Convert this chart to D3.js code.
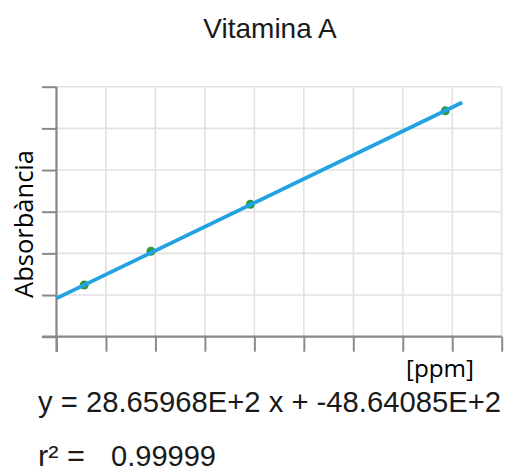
<!DOCTYPE html>
<html>
<head>
<meta charset="utf-8">
<script src="https://cdn.jsdelivr.net/npm/d3@7/dist/d3.min.js"></script>
<style>
  html, body { margin: 0; padding: 0; background: #fff; }
  svg { display: block; }
</style>
</head>
<body>
<div id="chart"></div>
<script>
// calibration points (ppm vs absorbance)
var concentrations = [0.56, 1.91, 3.92, 7.86];
var absorbances = [1.24, 2.05, 3.18, 5.42];

// fitted line end points
var fitX = [0, 8.2];
var fitY = [0.92, 5.62];

var xTicks = [0, 1, 2, 3, 4, 5, 6, 7, 8, 9];
var yTicks = [0, 1, 2, 3, 4, 5, 6];

var title = 'Vitamina A',
    yTitle = 'Absorbància',
    xTitle = '[ppm]',
    equation = 'y = 28.65968E+2 x + -48.64085E+2',
    r2Label = 'r² =',
    r2Value = '0.99999';

(function(){

    var width = 506,
        height = 473,
        plotLeft = 56.5,
        plotRight = 501.7,
        plotTop = 86.7,
        plotBottom = 336.7,
        axisColor = '#8a8a8a',
        gridColor = '#e2e2e2',
        svg, x, y;

    svg = d3.select('#chart')
        .append('svg')
        .attr('width', width)
        .attr('height', height);

    x = d3.scaleLinear().domain([0, 9]).range([plotLeft, plotRight]);
    y = d3.scaleLinear().domain([0, 6]).range([plotBottom, plotTop]);

    // grid
    svg.append('g')
        .selectAll('line')
        .data(yTicks)
        .enter()
        .append('line')
        .attr('x1', plotLeft)
        .attr('x2', plotRight)
        .attr('y1', d => y(d))
        .attr('y2', d => y(d))
        .style('stroke', gridColor)
        .style('stroke-width', 1.6);

    svg.append('g')
        .selectAll('line')
        .data(xTicks)
        .enter()
        .append('line')
        .attr('x1', d => x(d))
        .attr('x2', d => x(d))
        .attr('y1', plotTop)
        .attr('y2', plotBottom)
        .style('stroke', gridColor)
        .style('stroke-width', 1.6);

    // axes
    var yAxis = svg.append('g')
        .attr('transform', 'translate(' + plotLeft + ',0)')
        .call(d3.axisLeft(y).tickValues(yTicks).tickSize(14.5).tickFormat(''));

    var xAxis = svg.append('g')
        .attr('transform', 'translate(0,' + plotBottom + ')')
        .call(d3.axisBottom(x).tickValues(xTicks).tickSize(15).tickFormat(''));

    [yAxis, xAxis].forEach(function(g){
        g.select('.domain').remove();
        g.selectAll('line')
            .style('stroke', axisColor)
            .style('stroke-width', 2);
    });

    svg.append('line')
        .attr('x1', plotLeft).attr('x2', plotLeft)
        .attr('y1', plotTop).attr('y2', plotBottom + 15)
        .style('stroke', axisColor)
        .style('stroke-width', 2.2);

    svg.append('line')
        .attr('x1', plotLeft - 14.5).attr('x2', plotRight)
        .attr('y1', plotBottom).attr('y2', plotBottom)
        .style('stroke', axisColor)
        .style('stroke-width', 2.2);

    // points
    svg.append('g')
        .selectAll('circle')
        .data(d3.zip(concentrations, absorbances))
        .enter()
        .append('circle')
        .attr('cx', d => x(d[0]))
        .attr('cy', d => y(d[1]))
        .attr('r', 4.5)
        .attr('fill', '#2f9a3c');

    // regression line
    svg.append('path')
        .datum(d3.zip(fitX, fitY))
        .attr('d', d3.line().x(d => x(d[0])).y(d => y(d[1])))
        .attr('fill', 'none')
        .style('stroke', '#22a2e2')
        .style('stroke-width', 3.8);

    // texts
    svg.append('text')
        .text(title)
        .attr('x', 270)
        .attr('y', 38)
        .attr('text-anchor', 'middle')
        .attr('font-family', 'Liberation Sans, Arial, sans-serif')
        .attr('font-size', '28px')
        .attr('fill', '#1a1a1a');

    svg.append('text')
        .text(yTitle)
        .attr('transform', 'translate(33,224) rotate(-90)')
        .attr('text-anchor', 'middle')
        .attr('font-family', 'Open Sans, sans-serif')
        .attr('font-size', '26px')
        .attr('textLength', 148)
        .attr('lengthAdjust', 'spacingAndGlyphs')
        .attr('fill', '#000');

    svg.append('text')
        .text(xTitle)
        .attr('x', 406)
        .attr('y', 377)
        .attr('font-family', 'Open Sans, sans-serif')
        .attr('font-size', '23px')
        .attr('textLength', 68)
        .attr('lengthAdjust', 'spacingAndGlyphs')
        .attr('fill', '#000');

    svg.append('text')
        .text(equation)
        .attr('x', 38)
        .attr('y', 412)
        .attr('font-family', 'Liberation Sans, Arial, sans-serif')
        .attr('font-size', '29px')
        .attr('textLength', 463)
        .attr('lengthAdjust', 'spacingAndGlyphs')
        .attr('fill', '#1a1a1a');

    svg.append('text')
        .text(r2Label)
        .attr('x', 38)
        .attr('y', 466)
        .attr('font-family', 'Liberation Sans, Arial, sans-serif')
        .attr('font-size', '29px')
        .attr('textLength', 47)
        .attr('lengthAdjust', 'spacingAndGlyphs')
        .attr('fill', '#1a1a1a');

    svg.append('text')
        .text(r2Value)
        .attr('x', 111)
        .attr('y', 466)
        .attr('font-family', 'Liberation Sans, Arial, sans-serif')
        .attr('font-size', '29px')
        .attr('textLength', 105)
        .attr('lengthAdjust', 'spacingAndGlyphs')
        .attr('fill', '#1a1a1a');
})();
</script>
</body>
</html>
